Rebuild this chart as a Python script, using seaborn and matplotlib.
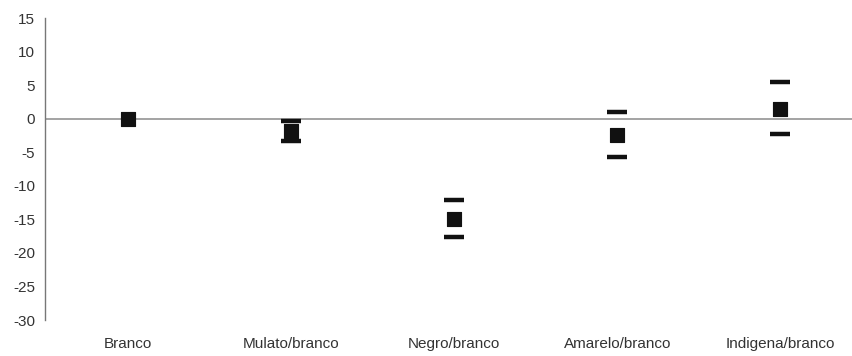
import pandas as pd
import seaborn as sns
import matplotlib.pyplot as plt

# Values
groups = ["Branco", "Mulato/branco", "Negro/branco", "Amarelo/branco", "Indigena/branco"]
estimate = [0.0, -1.8, -15.0, -2.5, 1.45]
upper = [0.0, -0.3, -12.1, 0.95, 5.4]
lower = [0.0, -3.3, -17.6, -5.75, -2.3]
yticks = [15, 10, 5, 0, -5, -10, -15, -20, -25, -30]

df = pd.DataFrame({"grupo": groups, "est": estimate, "sup": upper, "inf": lower})
df["grupo"] = pd.Categorical(df["grupo"], categories=groups, ordered=True)
bounds = df[df["grupo"] != "Branco"].melt(id_vars="grupo", value_vars=["sup", "inf"], value_name="v")
bounds["grupo"] = pd.Categorical(bounds["grupo"], categories=groups, ordered=True)

sns.set_style("white")
plt.rcParams["font.family"] = ["Liberation Sans", "DejaVu Sans"]
plt.rcParams["axes.unicode_minus"] = False

fig = plt.figure(figsize=(8.52, 3.56), dpi=100)
ax = fig.add_axes([45 / 852, 1 - 320 / 356, 807 / 852, 302 / 356])

ax.axhline(0, color="#8a8a8a", lw=1.1, zorder=1)
# points first so the category order is fixed by the full list
sns.scatterplot(data=df, x="grupo", y="est", marker="s", s=105, color="#111111",
                edgecolor="#111111", ax=ax, zorder=4, legend=False)
sns.scatterplot(data=bounds, x="grupo", y="v", marker="_", s=190, linewidth=3.2,
                color="#111111", ax=ax, zorder=3, legend=False)

ax.set_xlim(-0.51, 4.44)
ax.set_ylim(-30, 15)
ax.set_yticks(yticks)
ax.set_xticks(range(len(groups)))
ax.set_xticklabels(groups)
ax.set_xlabel("")
ax.set_ylabel("")

for s in ["top", "right", "bottom"]:
    ax.spines[s].set_visible(False)
ax.spines["left"].set_color("#777777")
ax.spines["left"].set_linewidth(1.0)
ax.tick_params(axis="y", length=4, color="#777777", labelsize=11, labelcolor="#333333", pad=3)
ax.tick_params(axis="x", length=0, labelsize=11, labelcolor="#333333", pad=12)

fig.savefig("out.png", dpi=100, facecolor="white")
